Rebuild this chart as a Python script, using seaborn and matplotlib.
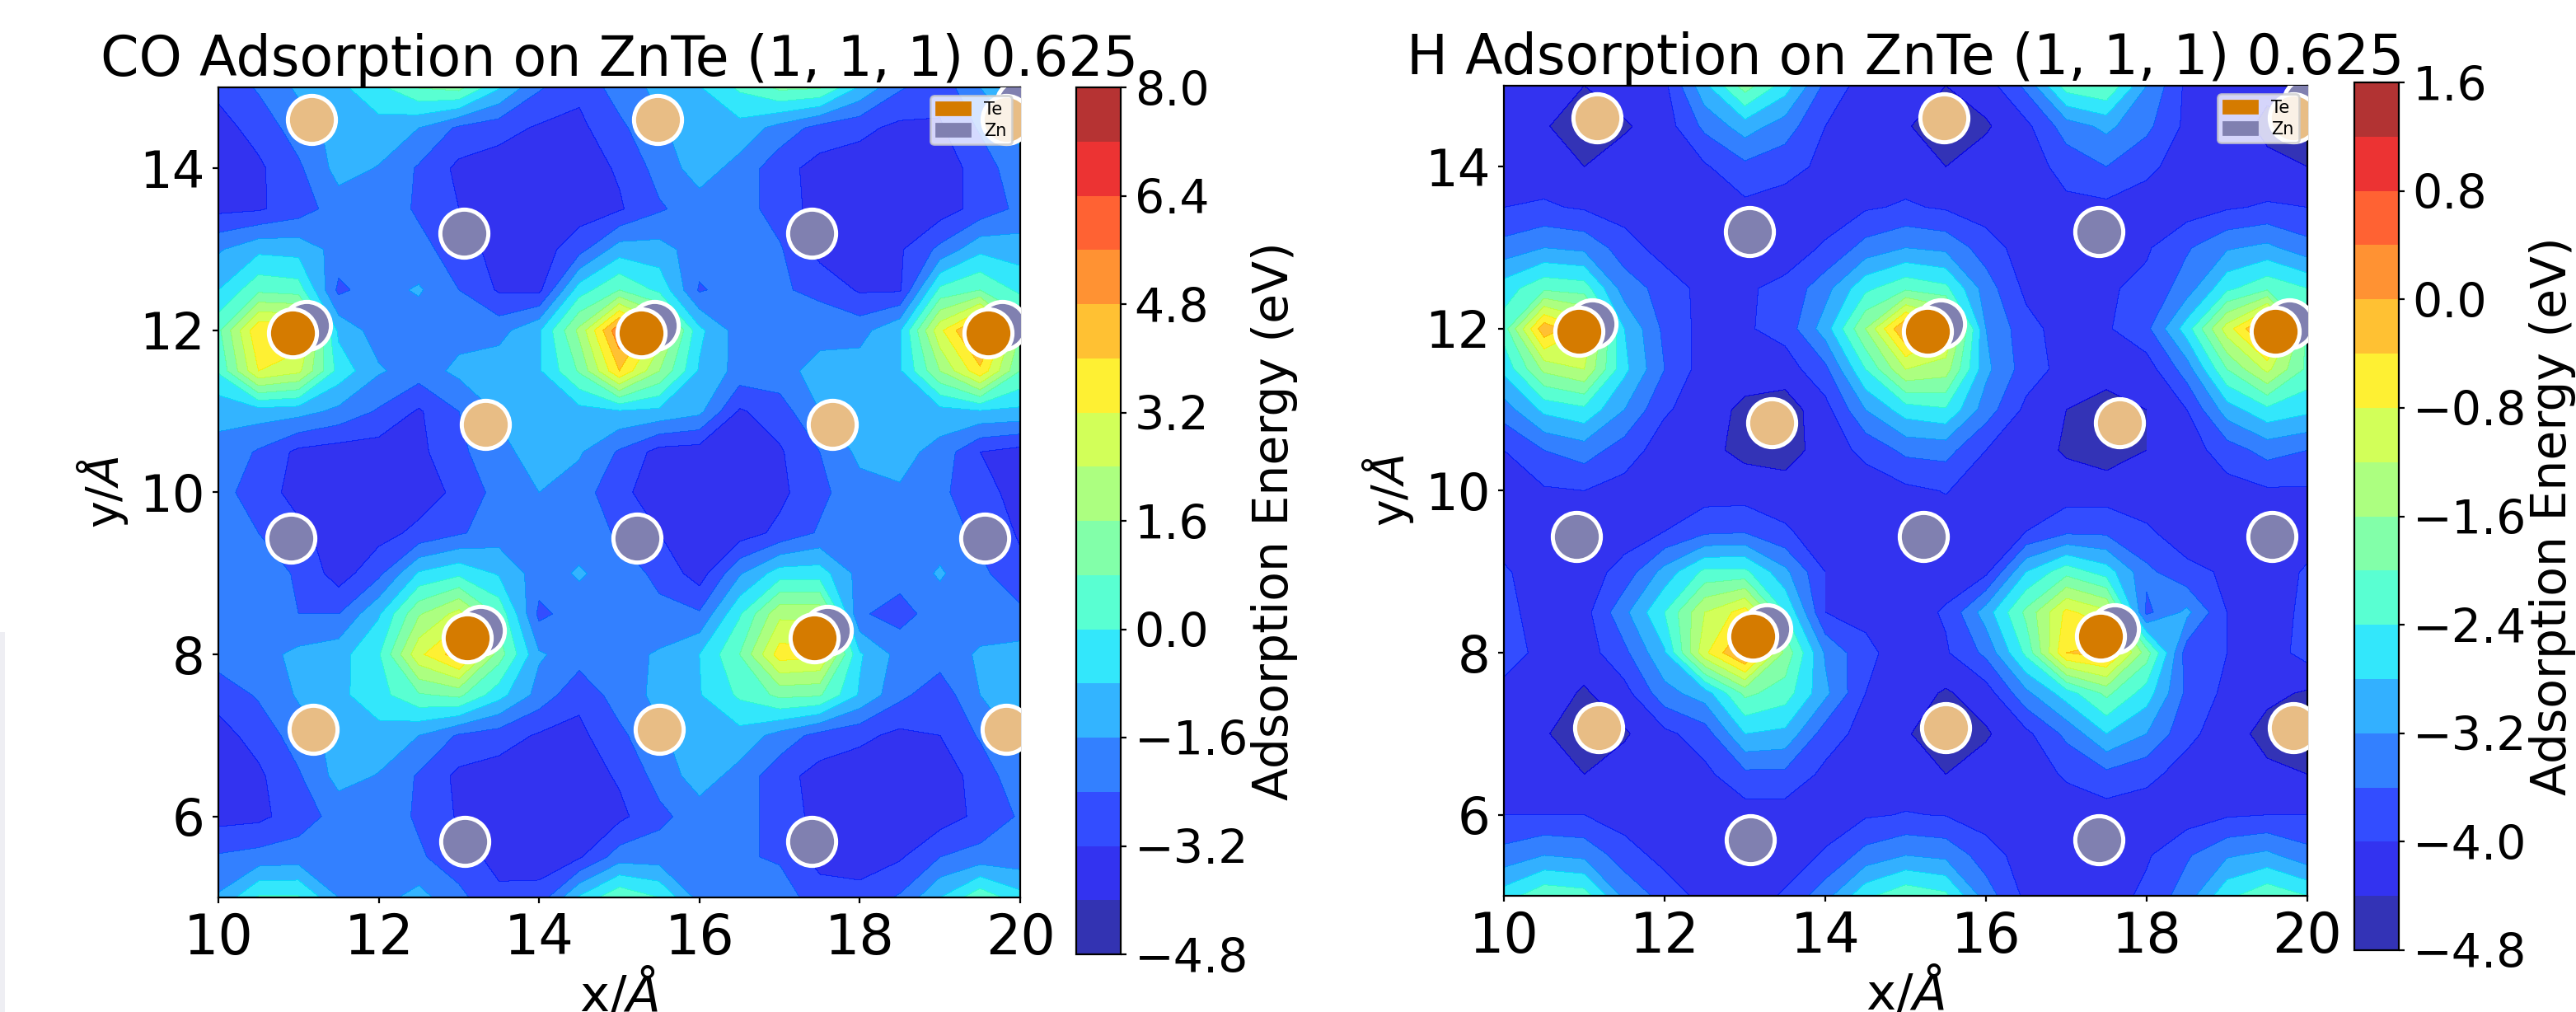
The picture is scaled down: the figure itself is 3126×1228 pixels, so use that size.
import matplotlib
matplotlib.use('Agg')
import matplotlib.pyplot as plt
from matplotlib.patches import Patch, Rectangle
import numpy as np
import seaborn as sns

# grid of the adsorption maps, rows listed from top (y=15) to bottom (y=5)
x_grid = [10, 10.5, 11, 11.5, 12, 12.5, 13, 13.5, 14, 14.5, 15, 15.5, 16, 16.5, 17, 17.5, 18, 18.5, 19, 19.5, 20]
y_grid = [15, 14.5, 14, 13.5, 13, 12.5, 12, 11.5, 11, 10.5, 10, 9.5, 9, 8.5, 8, 7.5, 7, 6.5, 6, 5.5, 5]

co_energy = [
    [-3.0, -2.3, -1.45, -1.0, -0.2, 0.85, 1.1, -0.7, -2.3, -3.0, -2.0, -1.4, -0.85, 0.15, 1.0, 0.9, -0.9, -2.3, -2.9, -1.6, -1.1],
    [-3.5, -2.9, -2.0, -1.3, -1.1, -1.6, -2.55, -2.9, -3.3, -3.4, -2.6, -1.7, -1.2, -1.1, -1.9, -2.7, -3.0, -3.4, -3.3, -2.3, -1.4],
    [-3.5, -3.35, -2.55, -1.3, -1.65, -2.5, -3.4, -3.6, -3.7, -3.6, -3.1, -2.1, -1.2, -1.9, -2.9, -3.5, -3.6, -3.7, -3.6, -2.9, -1.8],
    [-3.4, -3.3, -2.8, -2.0, -2.0, -2.5, -3.2, -3.6, -3.7, -3.6, -3.3, -2.5, -2.0, -2.0, -2.8, -3.5, -3.7, -3.7, -3.6, -2.9, -2.2],
    [-1.7, -1.0, -1.1, -1.9, -2.0, -2.2, -2.7, -3.6, -3.6, -2.7, -1.2, -1.3, -2.0, -2.0, -2.3, -3.5, -3.6, -3.3, -2.2, -1.0, -1.2],
    [-0.8, 0.6, 0.4, -2.6, -1.9, -1.5, -2.4, -3.3, -3.4, -0.4, 0.8, -0.2, -2.5, -2.0, -2.3, -2.6, -3.3, -3.3, 0.2, 0.8, -0.2],
    [0.6, 3.9, 3.9, -1.0, -2.0, -2.1, -1.9, -1.9, -0.9, 1.8, 5.5, 3.0, -0.6, -2.0, -2.0, -1.9, -1.9, -0.9, 3.0, 5.5, 1.6],
    [0.1, 3.2, 2.6, -0.3, -1.5, -2.0, -1.4, -1.1, -0.9, 0.9, 4.0, 1.6, -0.9, -1.9, -1.9, -1.3, -1.2, -0.9, 1.6, 3.8, 0.8],
    [-1.4, -1.2, -1.3, -1.8, -2.5, -3.3, -2.4, -1.5, -1.3, -1.1, -0.9, -1.0, -1.4, -3.3, -2.8, -1.6, -1.5, -1.3, -1.1, -0.9, -1.0],
    [-1.8, -2.5, -3.4, -3.6, -3.6, -3.4, -2.6, -1.8, -1.3, -1.5, -2.5, -3.5, -3.6, -3.6, -3.3, -2.4, -1.4, -1.3, -1.9, -3.2, -3.5],
    [-2.1, -2.8, -3.5, -3.7, -3.7, -3.6, -3.0, -2.1, -1.6, -2.0, -3.0, -3.6, -3.7, -3.7, -3.4, -2.6, -1.9, -1.7, -2.2, -3.0, -3.4],
    [-2.0, -2.4, -3.0, -3.6, -3.5, -3.0, -2.5, -2.0, -1.8, -2.0, -2.5, -3.2, -3.7, -3.6, -3.0, -2.3, -2.0, -1.8, -2.0, -2.6, -3.3],
    [-1.9, -2.0, -2.5, -3.6, -2.6, -0.7, -0.2, -0.9, -2.0, -1.5, -2.0, -2.6, -3.6, -1.7, -0.4, -0.4, -1.9, -2.1, -1.5, -2.2, -3.0],
    [-1.9, -2.0, -2.4, -2.4, -0.9, 1.5, 2.7, 0.6, -2.6, -2.0, -2.0, -2.2, -2.3, -0.1, 2.2, 2.2, -2.3, -2.7, -2.0, -2.0, -2.2],
    [-2.0, -1.9, -1.4, -1.1, -0.1, 3.0, 4.5, 1.2, -1.5, -2.0, -1.9, -1.5, -0.8, 0.8, 3.6, 3.4, -0.7, -1.9, -2.0, -1.5, -1.3],
    [-2.9, -2.3, -1.5, -1.0, -0.3, 0.7, 1.0, -0.5, -1.9, -3.0, -2.0, -1.4, -0.85, 0.15, 1.0, 0.9, -0.9, -2.2, -2.9, -1.6, -1.1],
    [-3.5, -2.9, -2.0, -1.3, -1.1, -1.6, -2.5, -2.8, -3.3, -3.4, -2.6, -1.7, -1.2, -1.1, -1.9, -2.7, -3.0, -3.4, -3.2, -2.3, -1.4],
    [-3.5, -3.35, -2.5, -1.3, -1.65, -2.5, -3.4, -3.6, -3.7, -3.6, -3.1, -2.1, -1.2, -1.9, -2.9, -3.5, -3.7, -3.7, -3.6, -2.9, -1.8],
    [-3.5, -3.4, -2.8, -2.1, -2.0, -2.5, -3.3, -3.7, -3.7, -3.6, -3.4, -2.6, -2.0, -2.1, -2.7, -3.5, -3.7, -3.7, -3.6, -3.0, -2.3],
    [-2.3, -2.1, -2.0, -2.1, -2.1, -2.3, -2.8, -3.5, -3.6, -3.3, -2.0, -2.0, -2.2, -2.3, -2.5, -3.5, -3.6, -3.3, -2.4, -2.1, -2.1],
    [-1.5, 0.1, 0.1, -1.6, -1.9, -1.3, -2.2, -3.0, -2.9, -0.7, 0.7, 0.0, -1.9, -2.3, -2.0, -2.8, -2.9, -2.3, -0.8, 0.6, -0.5],
]

h_energy = [
    [-4.2, -4.2, -4.4, -4.2, -4.1, -2.9, -1.8, -2.6, -3.7, -4.2, -4.2, -4.4, -4.2, -3.5, -2.2, -2.0, -3.2, -4.1, -4.2, -4.3, -4.2],
    [-4.2, -4.35, -4.7, -4.45, -4.2, -3.5, -3.0, -3.4, -4.0, -4.2, -4.35, -4.7, -4.45, -4.1, -3.4, -3.1, -3.5, -4.1, -4.2, -4.5, -4.5],
    [-4.2, -4.2, -4.4, -4.2, -4.2, -4.05, -3.7, -3.85, -4.1, -4.2, -4.2, -4.4, -4.2, -4.2, -3.85, -3.6, -3.9, -4.2, -4.2, -4.3, -4.4],
    [-4.0, -3.95, -4.05, -4.2, -4.2, -4.2, -4.1, -4.2, -4.2, -4.05, -3.95, -4.05, -4.2, -4.2, -4.1, -4.1, -4.2, -4.2, -4.05, -3.95, -4.0],
    [-3.45, -3.2, -3.3, -3.8, -4.2, -4.2, -4.2, -4.2, -3.95, -3.45, -3.2, -3.3, -3.8, -4.2, -4.2, -4.2, -4.05, -3.65, -3.25, -3.1, -3.45],
    [-2.6, -2.1, -2.2, -3.4, -3.75, -4.15, -4.05, -3.9, -3.35, -2.5, -2.1, -2.3, -3.4, -4.1, -4.2, -4.05, -3.9, -3.4, -2.5, -2.1, -2.4],
    [-2.2, -0.1, -0.8, -2.8, -3.7, -4.15, -4.05, -3.85, -3.0, -1.6, 0.1, -0.7, -3.2, -3.85, -4.2, -4.05, -3.7, -2.6, -1.0, 0.3, -2.1],
    [-2.7, -1.5, -1.2, -2.7, -3.6, -4.2, -4.2, -4.2, -3.7, -2.4, -1.2, -1.4, -3.1, -3.8, -4.15, -4.2, -4.2, -3.4, -2.0, -1.1, -2.1],
    [-3.4, -2.7, -2.5, -3.2, -3.95, -4.2, -4.5, -4.6, -4.15, -3.2, -2.6, -2.45, -3.4, -4.1, -4.4, -4.6, -4.4, -4.0, -3.0, -2.5, -2.7],
    [-4.0, -3.6, -3.4, -3.8, -4.2, -4.3, -4.5, -4.6, -4.2, -3.9, -3.5, -3.45, -4.0, -4.2, -4.45, -4.6, -4.4, -4.2, -3.8, -3.45, -3.6],
    [-4.1, -4.05, -4.0, -4.15, -4.2, -4.2, -4.2, -4.2, -4.2, -4.2, -4.1, -3.98, -4.2, -4.2, -4.2, -4.2, -4.2, -4.2, -4.15, -4.05, -4.05],
    [-4.2, -4.2, -4.2, -4.2, -4.0, -3.7, -3.65, -3.95, -4.2, -4.2, -4.2, -4.2, -4.2, -4.0, -3.7, -3.7, -3.95, -4.2, -4.2, -4.2, -4.2],
    [-3.95, -4.2, -4.2, -3.85, -3.05, -2.3, -2.3, -3.1, -4.0, -4.2, -4.2, -4.2, -4.1, -2.8, -2.15, -2.6, -3.5, -3.9, -4.05, -4.2, -3.95],
    [-3.9, -4.15, -4.15, -3.3, -2.4, -1.2, -0.6, -2.4, -4.0, -4.1, -4.2, -3.95, -3.0, -1.9, -0.7, -1.1, -3.7, -3.1, -4.0, -4.2, -3.9],
    [-3.85, -4.1, -4.2, -3.7, -2.85, -0.9, 0.2, -1.7, -3.25, -3.9, -4.2, -4.05, -3.5, -2.3, -0.4, -0.2, -1.8, -3.8, -4.0, -4.2, -3.85],
    [-4.1, -4.2, -4.45, -4.15, -3.35, -3.0, -1.9, -2.2, -3.1, -4.0, -4.2, -4.45, -4.2, -3.3, -2.6, -1.9, -2.6, -3.7, -4.1, -4.3, -4.45],
    [-4.2, -4.35, -4.7, -4.45, -4.1, -3.8, -2.8, -2.9, -3.8, -4.15, -4.35, -4.7, -4.45, -4.1, -3.5, -2.8, -3.2, -3.9, -4.2, -4.55, -4.6],
    [-4.2, -4.2, -4.4, -4.2, -4.2, -4.1, -3.7, -3.7, -4.1, -4.2, -4.2, -4.4, -4.2, -4.2, -3.95, -3.7, -3.9, -4.15, -4.2, -4.3, -4.4],
    [-4.0, -4.0, -4.0, -4.2, -4.2, -4.2, -4.2, -4.2, -4.2, -4.05, -3.98, -4.02, -4.2, -4.2, -4.2, -4.2, -4.2, -4.2, -4.05, -4.0, -4.0],
    [-3.45, -3.2, -3.3, -3.8, -4.15, -4.2, -4.2, -4.2, -3.95, -3.45, -3.2, -3.3, -3.8, -4.2, -4.2, -4.2, -4.05, -3.65, -3.25, -3.1, -3.45],
    [-2.6, -2.1, -2.2, -3.3, -3.75, -4.15, -4.2, -3.95, -3.35, -2.5, -2.1, -2.3, -3.4, -4.1, -4.2, -4.2, -3.9, -3.4, -2.5, -2.1, -2.4],
]

# atom sites, same slab in both panels
te_top_x = [10.93, 15.27, 19.6, 13.1, 17.43]
te_top_y = [11.97, 11.97, 11.97, 8.2, 8.2]
zn_top_x = [11.1, 15.44, 19.77, 13.27, 17.6]
zn_top_y = [12.06, 12.06, 12.06, 8.3, 8.3]
zn_x = [13.06, 17.4, 10.9, 15.22, 19.56, 13.07, 17.4, 20.0]
zn_y = [13.2, 13.2, 9.44, 9.44, 9.44, 5.69, 5.69, 14.8]
te_low_x = [11.16, 15.48, 19.83, 13.33, 17.66, 11.18, 15.5, 19.83]
te_low_y = [14.6, 14.6, 14.6, 10.84, 10.84, 7.08, 7.08, 7.08]

co_ticks = [-4.8, -3.2, -1.6, 0.0, 1.6, 3.2, 4.8, 6.4, 8.0]
h_ticks = [-4.8, -4.0, -3.2, -2.4, -1.6, -0.8, 0.0, 0.8, 1.6]

TE_COLOR = '#d57b00'
TE_PALE = '#e8bd85'
ZN_COLOR = '#8080b0'

W, H = 3126, 1228
fig = plt.figure(figsize=(15.63, 6.14), dpi=200)


def px_axes(x0, y0, x1, y1):
    return fig.add_axes([x0 / W, 1 - y1 / H, (x1 - x0) / W, (y1 - y0) / H])


def atoms(ax, x, y, color, z):
    sns.scatterplot(x=x, y=y, color=color, s=440, edgecolor='white', linewidth=1.8, ax=ax, legend=False, zorder=z)


def panel(box, cbox, energy, ticks, title, cb_pad):
    ax = px_axes(*box)
    cs = ax.contourf(x_grid, y_grid, np.array(energy), levels=np.linspace(ticks[0], ticks[-1], 17), cmap='jet', alpha=0.8)
    atoms(ax, zn_x, zn_y, ZN_COLOR, 3)
    atoms(ax, te_low_x, te_low_y, TE_PALE, 4)
    atoms(ax, zn_top_x, zn_top_y, ZN_COLOR, 5)
    atoms(ax, te_top_x, te_top_y, TE_COLOR, 6)
    ax.set_xlim(10, 20)
    ax.set_ylim(5, 15)
    ax.set_xticks([10, 12, 14, 16, 18, 20])
    ax.set_yticks([6, 8, 10, 12, 14])
    ax.tick_params(axis='x', labelsize=24, length=2.5)
    ax.tick_params(axis='y', labelsize=22.5, length=2.5)
    ax.set_xlabel(r'x/$\AA$', fontsize=22, labelpad=1)
    ax.set_ylabel(r'y/$\AA$', fontsize=20, labelpad=4)
    ax.set_title(title, fontsize=24, pad=-1.5)
    handles = [Patch(color=TE_COLOR, label='Te'), Patch(color=ZN_COLOR, label='Zn')]
    ax.legend(handles=handles, loc='upper right', fontsize=7.5, labelspacing=0.3, borderpad=0.3)

    cax = px_axes(*cbox)
    cb = fig.colorbar(cs, cax=cax, ticks=ticks)
    cb.ax.tick_params(labelsize=20.5, length=2.5)
    cb.set_label('Adsorption Energy (eV)', fontsize=21, labelpad=cb_pad)
    return ax


panel((265, 106, 1238, 1089), (1306, 106, 1360, 1158), co_energy, co_ticks, 'CO Adsorption on ZnTe (1, 1, 1) 0.625', 1)
panel((1825, 104, 2800, 1087), (2857, 100, 2911, 1153), h_energy, h_ticks, 'H Adsorption on ZnTe (1, 1, 1) 0.625', 1)

# pale strip on the left edge of the page
fig.add_artist(Rectangle((0, 0), 6 / W, (H - 767) / H, transform=fig.transFigure, color='#eeeef3', lw=0))

fig.savefig('out.png', dpi=200)
